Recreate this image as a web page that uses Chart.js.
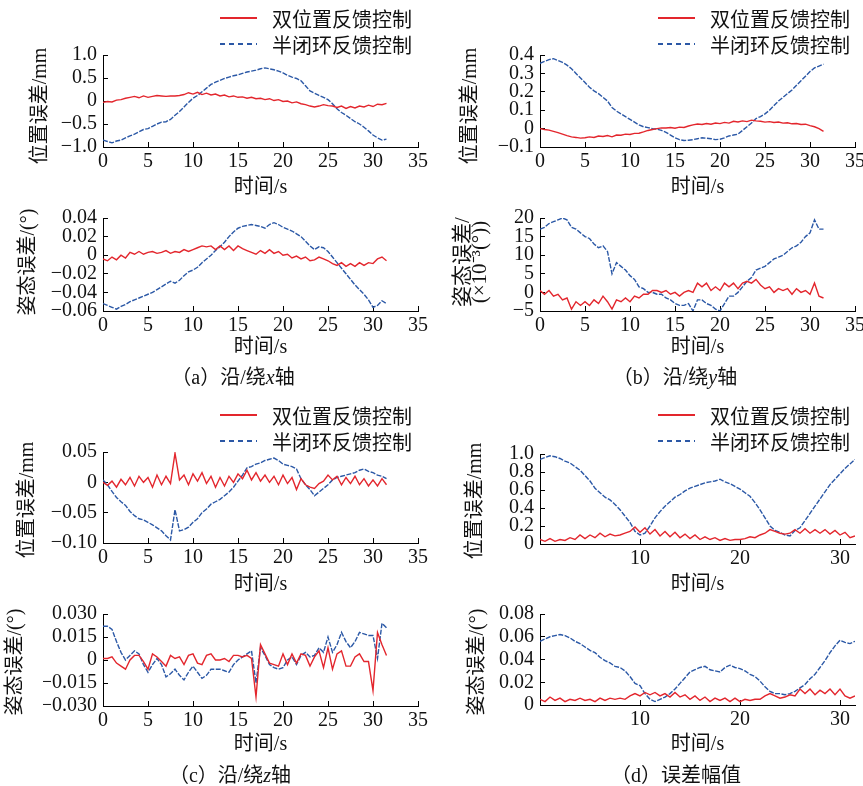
<!DOCTYPE html>
<html lang="zh">
<head>
<meta charset="utf-8">
<script src="https://cdn.jsdelivr.net/npm/chart.js@4.4.1/dist/chart.umd.min.js"></script>
<style>
  html, body { margin: 0; padding: 0; background: #fff; }
  #fig { position: relative; width: 863px; height: 786px; overflow: hidden;
         font-family: 'Liberation Serif', 'Times New Roman', 'Noto Sans CJK SC', serif; color: #111; }
  #fig canvas { position: absolute; left: 0; top: 0; }
  .legend { position: absolute; font-size: 20px; }
  .legend .row { display: flex; align-items: center; height: 26px; white-space: nowrap; }
  .legend svg { margin-right: 15px; }
  .cap { position: absolute; font-size: 20px; line-height: 26px; transform: translateX(-50%); white-space: nowrap; }
</style>
</head>
<body>
<div id="fig">
  <canvas id="a1" width="863" height="786"></canvas>
  <canvas id="a2" width="863" height="786"></canvas>
  <canvas id="b1" width="863" height="786"></canvas>
  <canvas id="b2" width="863" height="786"></canvas>
  <canvas id="c1" width="863" height="786"></canvas>
  <canvas id="c2" width="863" height="786"></canvas>
  <canvas id="d1" width="863" height="786"></canvas>
  <canvas id="d2" width="863" height="786"></canvas>

  <div class="legend" style="left:220px;top:5px">
    <div class="row"><svg width="37" height="4"><line x1="0" y1="2" x2="37" y2="2" stroke="#e3262d" stroke-width="2"/></svg>双位置反馈控制</div>
    <div class="row"><svg width="37" height="4"><line x1="0" y1="2" x2="37" y2="2" stroke="#2b58a6" stroke-width="2" stroke-dasharray="5,4"/></svg>半闭环反馈控制</div>
  </div>
  <div class="legend" style="left:658px;top:5px">
    <div class="row"><svg width="37" height="4"><line x1="0" y1="2" x2="37" y2="2" stroke="#e3262d" stroke-width="2"/></svg>双位置反馈控制</div>
    <div class="row"><svg width="37" height="4"><line x1="0" y1="2" x2="37" y2="2" stroke="#2b58a6" stroke-width="2" stroke-dasharray="5,4"/></svg>半闭环反馈控制</div>
  </div>
  <div class="legend" style="left:220px;top:402px">
    <div class="row"><svg width="37" height="4"><line x1="0" y1="2" x2="37" y2="2" stroke="#e3262d" stroke-width="2"/></svg>双位置反馈控制</div>
    <div class="row"><svg width="37" height="4"><line x1="0" y1="2" x2="37" y2="2" stroke="#2b58a6" stroke-width="2" stroke-dasharray="5,4"/></svg>半闭环反馈控制</div>
  </div>
  <div class="legend" style="left:658px;top:402px">
    <div class="row"><svg width="37" height="4"><line x1="0" y1="2" x2="37" y2="2" stroke="#e3262d" stroke-width="2"/></svg>双位置反馈控制</div>
    <div class="row"><svg width="37" height="4"><line x1="0" y1="2" x2="37" y2="2" stroke="#2b58a6" stroke-width="2" stroke-dasharray="5,4"/></svg>半闭环反馈控制</div>
  </div>

  <div class="cap" style="left:233px;top:364px">（a）沿/绕<i>x</i>轴</div>
  <div class="cap" style="left:675px;top:364px">（b）沿/绕<i>y</i>轴</div>
  <div class="cap" style="left:230px;top:762px">（c）沿/绕<i>z</i>轴</div>
  <div class="cap" style="left:676px;top:762px">（d）误差幅值</div>
</div>

<script>
// sample times (s), shared by every panel
const TIME = [
  0, 0.5, 1, 1.5, 2, 2.5, 3, 3.5,
  4, 4.5, 5, 5.5, 6, 6.5, 7, 7.5,
  8, 8.5, 9, 9.5, 10, 10.5, 11, 11.5,
  12, 12.5, 13, 13.5, 14, 14.5, 15, 15.5,
  16, 16.5, 17, 17.5, 18, 18.5, 19, 19.5,
  20, 20.5, 21, 21.5, 22, 22.5, 23, 23.5,
  24, 24.5, 25, 25.5, 26, 26.5, 27, 27.5,
  28, 28.5, 29, 29.5, 30, 30.5, 31, 31.5
];

// (a) x axis: position error (mm)
const posX_dual = [
  -0.03, -0.01, -0.02, 0.02, 0.03, 0.06, 0.08, 0.10,
  0.07, 0.11, 0.08, 0.10, 0.12, 0.11, 0.10, 0.11,
  0.11, 0.12, 0.14, 0.18, 0.15, 0.19, 0.14, 0.17,
  0.13, 0.15, 0.11, 0.13, 0.09, 0.11, 0.08, 0.09,
  0.06, 0.08, 0.05, 0.06, 0.03, 0.05, 0.01, 0.03,
  -0.01, 0.00, -0.04, -0.02, -0.06, -0.08, -0.11, -0.13,
  -0.11, -0.08, -0.10, -0.11, -0.14, -0.11, -0.16, -0.12,
  -0.15, -0.11, -0.13, -0.09, -0.12, -0.07, -0.08, -0.05
];
const posX_semi = [
  -0.85, -0.88, -0.91, -0.87, -0.85, -0.80, -0.76, -0.72,
  -0.67, -0.62, -0.60, -0.55, -0.50, -0.46, -0.45, -0.40,
  -0.31, -0.23, -0.13, -0.03, 0.06, 0.12, 0.20, 0.28,
  0.36, 0.41, 0.45, 0.49, 0.52, 0.55, 0.57, 0.60,
  0.63, 0.65, 0.67, 0.70, 0.72, 0.70, 0.68, 0.65,
  0.61, 0.56, 0.52, 0.49, 0.44, 0.33, 0.22, 0.17,
  0.12, 0.08, 0.03, -0.06, -0.17, -0.25, -0.31, -0.38,
  -0.45, -0.50, -0.57, -0.65, -0.74, -0.80, -0.85, -0.83
];
// (a) x axis: attitude error (deg)
const attX_dual = [
  -0.004, -0.006, -0.002, -0.005, 0.000, -0.003, 0.003, 0.001,
  0.004, 0.001, 0.003, 0.004, 0.002, 0.003, 0.005, 0.002,
  0.004, 0.003, 0.006, 0.004, 0.006, 0.008, 0.010, 0.009,
  0.010, 0.006, 0.010, 0.006, 0.010, 0.005, 0.010, 0.007,
  0.005, 0.003, 0.001, 0.005, 0.002, 0.006, 0.002, 0.004,
  0.000, 0.001, -0.003, -0.001, -0.004, -0.002, -0.006, -0.005,
  -0.002, -0.004, -0.006, -0.009, -0.011, -0.008, -0.012, -0.009,
  -0.012, -0.008, -0.011, -0.008, -0.009, -0.004, -0.002, -0.006
];
const attX_semi = [
  -0.052, -0.054, -0.056, -0.058, -0.055, -0.053, -0.050, -0.048,
  -0.046, -0.044, -0.042, -0.040, -0.037, -0.034, -0.031, -0.028,
  -0.030, -0.027, -0.022, -0.018, -0.016, -0.013, -0.008, -0.004,
  0.000, 0.005, 0.009, 0.014, 0.020, 0.025, 0.029, 0.031,
  0.032, 0.033, 0.032, 0.031, 0.029, 0.033, 0.035, 0.033,
  0.030, 0.028, 0.026, 0.023, 0.020, 0.015, 0.010, 0.006,
  0.009, 0.008, 0.004, -0.002, -0.008, -0.014, -0.020, -0.026,
  -0.032, -0.037, -0.042, -0.048, -0.056, -0.054, -0.049, -0.052
];

// (b) y axis: position error (mm)
const posY_dual = [
  0.000, -0.005, -0.008, -0.015, -0.022, -0.030, -0.038, -0.045,
  -0.048, -0.052, -0.050, -0.045, -0.048, -0.040, -0.043, -0.038,
  -0.045, -0.035, -0.036, -0.030, -0.032, -0.026, -0.025, -0.018,
  -0.010, -0.005, 0.000, 0.004, 0.003, 0.006, 0.002, 0.008,
  0.006, 0.014, 0.020, 0.025, 0.022, 0.028, 0.024, 0.030,
  0.027, 0.034, 0.030, 0.040, 0.036, 0.042, 0.038, 0.046,
  0.042, 0.040, 0.035, 0.038, 0.033, 0.036, 0.030, 0.032,
  0.026, 0.028, 0.022, 0.024, 0.016, 0.010, 0.000, -0.015
];
const posY_semi = [
  0.355, 0.365, 0.375, 0.380, 0.370, 0.360, 0.345, 0.325,
  0.300, 0.275, 0.250, 0.225, 0.205, 0.190, 0.170, 0.150,
  0.115, 0.095, 0.080, 0.065, 0.050, 0.035, 0.020, 0.010,
  0.005, 0.000, -0.003, -0.010, -0.020, -0.035, -0.050, -0.060,
  -0.065, -0.063, -0.060, -0.055, -0.050, -0.052, -0.055, -0.060,
  -0.058, -0.050, -0.040, -0.035, -0.030, -0.010, 0.010, 0.030,
  0.055, 0.065, 0.080, 0.100, 0.125, 0.150, 0.170, 0.190,
  0.210, 0.235, 0.260, 0.285, 0.310, 0.330, 0.340, 0.350
];
// (b) y axis: attitude error (1e-3 deg)
const attY_dual = [
  0.5, -0.5, 0.5, -1, -0.5, -2, -1.5, -4.5,
  -2.5, -3.5, -2.5, -3.5, -2, -3, -1, -2.5,
  -4.5, -2, -2.5, -1.5, -2.5, -1, -1.5, -0.5,
  -0.5, 0.5, 0.5, 0, 0.5, -0.5, 0, -1,
  0, 0.5, 0, 2.5, 1.5, 2.5, 0.5, 1.5,
  0.5, 2.5, 1.5, 2.5, 1, 2.5, 3, 2.5,
  3.5, 2, 1, 1.5, 0, 1, 0.5, 1,
  -0.5, 1, 0, 0.5, -0.5, 2.5, -1, -1.5
];
const attY_semi = [
  17, 17.5, 18.5, 19, 19.5, 20, 19.5, 17.5,
  17, 16, 15, 14.5, 13, 12, 12.5, 11,
  5, 8, 7, 6, 4.5, 3.5, 1.5, 1,
  0, 0, -0.5, -0.5, -1.5, -2, -3, -3.5,
  -3.5, -3, -5, -2, -2, -3, -3.5, -4.5,
  -5, -3, -1, -1, 0, 1.5, 3, 4,
  6, 6.5, 7, 8, 9, 9.5, 10, 11,
  12, 12.5, 13.5, 15, 16, 19.5, 17, 17
];

// (c) z axis: position error (mm)
const posZ_dual = [
  0.000, -0.005, 0.002, -0.008, 0.005, -0.004, 0.008, -0.006,
  0.010, 0.000, 0.008, -0.008, 0.012, -0.004, 0.010, -0.002,
  0.048, 0.004, 0.012, -0.004, 0.014, 0.002, 0.016, -0.002,
  0.010, -0.008, 0.008, -0.006, 0.010, 0.000, 0.014, 0.006,
  0.020, 0.004, 0.016, 0.002, 0.012, 0.000, 0.010, -0.004,
  0.012, -0.002, 0.008, -0.012, 0.006, -0.004, -0.008, -0.010,
  -0.002, 0.002, 0.012, 0.004, 0.010, -0.004, 0.008, -0.002,
  0.010, -0.004, 0.006, -0.006, 0.004, -0.006, 0.006, -0.004
];
const posZ_semi = [
  0.004, -0.004, -0.015, -0.025, -0.032, -0.038, -0.048, -0.055,
  -0.060, -0.062, -0.066, -0.070, -0.075, -0.080, -0.088, -0.095,
  -0.045, -0.080, -0.078, -0.074, -0.066, -0.060, -0.050, -0.044,
  -0.036, -0.032, -0.028, -0.022, -0.016, -0.008, 0.002, 0.012,
  0.024, 0.026, 0.030, 0.032, 0.036, 0.038, 0.040, 0.036,
  0.030, 0.028, 0.026, 0.022, 0.006, -0.004, -0.012, -0.022,
  -0.016, -0.010, -0.004, 0.004, 0.008, 0.010, 0.012, 0.014,
  0.016, 0.020, 0.022, 0.018, 0.016, 0.012, 0.010, 0.006
];
// (c) z axis: attitude error (deg)
const attZ_dual = [
  0.001, 0.001, 0.002, -0.002, -0.004, -0.006, 0.000, 0.003,
  0.003, -0.001, -0.006, 0.004, 0.002, -0.001, -0.004, 0.003,
  0.001, 0.002, -0.003, 0.003, 0.004, -0.002, -0.003, 0.003,
  0.004, 0.000, 0.000, 0.001, -0.001, 0.003, 0.003, 0.002,
  0.003, 0.001, -0.024, 0.010, 0.004, -0.002, -0.003, -0.004,
  0.004, -0.003, 0.004, -0.002, 0.004, 0.003, -0.004, 0.002,
  0.006, -0.005, 0.008, -0.006, 0.004, 0.006, -0.004, -0.004,
  0.002, 0.004, -0.001, -0.001, -0.020, 0.018, 0.010, 0.003
];
const attZ_semi = [
  0.022, 0.022, 0.020, 0.012, 0.005, 0.000, 0.003, 0.006,
  0.004, -0.003, -0.008, -0.003, 0.001, -0.003, -0.011, -0.009,
  -0.006, -0.010, -0.013, -0.008, -0.004, -0.008, -0.012, -0.010,
  -0.006, -0.006, -0.006, -0.007, -0.008, -0.003, 0.000, 0.002,
  0.004, 0.006, -0.015, 0.008, 0.003, -0.003, -0.005, -0.006,
  -0.005, 0.000, 0.002, -0.003, 0.003, 0.005, 0.002, 0.003,
  0.008, 0.005, 0.015, 0.005, 0.010, 0.018, 0.012, 0.008,
  0.012, 0.018, 0.017, 0.016, 0.016, 0.001, 0.024, 0.021
];

// (d) magnitude: position error (mm)
const posM_dual = [
  0.05, 0.03, 0.06, 0.03, 0.05, 0.04, 0.07, 0.05,
  0.10, 0.06, 0.10, 0.07, 0.12, 0.08, 0.11, 0.09,
  0.10, 0.12, 0.14, 0.19, 0.13, 0.18, 0.11, 0.16,
  0.09, 0.14, 0.08, 0.13, 0.07, 0.11, 0.06, 0.10,
  0.05, 0.08, 0.05, 0.07, 0.04, 0.06, 0.04, 0.05,
  0.05, 0.06, 0.08, 0.07, 0.10, 0.12, 0.16, 0.14,
  0.12, 0.11, 0.12, 0.16, 0.12, 0.17, 0.12, 0.16,
  0.12, 0.16, 0.11, 0.15, 0.10, 0.13, 0.07, 0.09
];
const posM_semi = [
  0.94, 0.96, 0.98, 0.97, 0.95, 0.92, 0.90, 0.86,
  0.82, 0.76, 0.70, 0.62, 0.57, 0.52, 0.49, 0.44,
  0.38, 0.31, 0.24, 0.14, 0.10, 0.12, 0.20, 0.29,
  0.36, 0.42, 0.47, 0.52, 0.55, 0.59, 0.62, 0.64,
  0.66, 0.68, 0.69, 0.70, 0.72, 0.69, 0.67, 0.64,
  0.61, 0.57, 0.53, 0.46, 0.38, 0.29, 0.20, 0.15,
  0.13, 0.10, 0.09, 0.15, 0.18, 0.26, 0.34, 0.42,
  0.50, 0.58, 0.66, 0.72, 0.78, 0.84, 0.89, 0.94
];
// (d) magnitude: attitude error (deg)
const attM_dual = [
  0.005, 0.003, 0.007, 0.004, 0.006, 0.003, 0.005, 0.004,
  0.006, 0.004, 0.005, 0.003, 0.006, 0.004, 0.006, 0.005,
  0.006, 0.005, 0.008, 0.010, 0.008, 0.011, 0.009, 0.011,
  0.008, 0.010, 0.007, 0.011, 0.007, 0.009, 0.005, 0.008,
  0.004, 0.007, 0.003, 0.006, 0.004, 0.006, 0.003, 0.006,
  0.003, 0.005, 0.004, 0.005, 0.005, 0.008, 0.010, 0.008,
  0.006, 0.007, 0.009, 0.008, 0.014, 0.010, 0.014, 0.009,
  0.013, 0.010, 0.014, 0.009, 0.014, 0.008, 0.006, 0.008
];
const attM_semi = [
  0.056, 0.058, 0.060, 0.061, 0.062, 0.061, 0.059, 0.056,
  0.054, 0.051, 0.048, 0.046, 0.042, 0.039, 0.037, 0.034,
  0.033, 0.030, 0.025, 0.019, 0.017, 0.010, 0.005, 0.003,
  0.005, 0.007, 0.010, 0.014, 0.019, 0.024, 0.029, 0.031,
  0.033, 0.034, 0.031, 0.030, 0.029, 0.033, 0.035, 0.033,
  0.032, 0.030, 0.027, 0.025, 0.021, 0.016, 0.012, 0.010,
  0.010, 0.009, 0.010, 0.012, 0.015, 0.018, 0.023, 0.027,
  0.033, 0.039, 0.046, 0.052, 0.057, 0.055, 0.054, 0.056
];

// tick values and their printed labels
const X_TICKS = [0, 5, 10, 15, 20, 25, 30, 35];
const X_TICKS_D = [10, 20, 30];
const Y_TICKS_A1 = [-1, -0.5, 0, 0.5, 1];
const Y_LABELS_A1 = ['−1.0', '−0.5', '0', '0.5', '1.0'];
const Y_TICKS_A2 = [-0.06, -0.04, -0.02, 0, 0.02, 0.04];
const Y_LABELS_A2 = ['−0.06', '−0.04', '−0.02', '0', '0.02', '0.04'];
const Y_TICKS_B1 = [-0.1, 0, 0.1, 0.2, 0.3, 0.4];
const Y_LABELS_B1 = ['−0.1', '0', '0.1', '0.2', '0.3', '0.4'];
const Y_TICKS_B2 = [-5, 0, 5, 10, 15, 20];
const Y_LABELS_B2 = ['−5', '0', '5', '10', '15', '20'];
const Y_TICKS_C1 = [-0.10, -0.05, 0, 0.05];
const Y_LABELS_C1 = ['−0.10', '−0.05', '0', '0.05'];
const Y_TICKS_C2 = [-0.03, -0.015, 0, 0.015, 0.03];
const Y_LABELS_C2 = ['−0.030', '−0.015', '0', '0.015', '0.030'];
const Y_TICKS_D1 = [0, 0.2, 0.4, 0.6, 0.8, 1.0];
const Y_LABELS_D1 = ['0', '0.2', '0.4', '0.6', '0.8', '1.0'];
const Y_TICKS_D2 = [0, 0.02, 0.04, 0.06, 0.08];
const Y_LABELS_D2 = ['0', '0.02', '0.04', '0.06', '0.08'];

const RED = '#e3262d';
const BLUE = '#2b58a6';
const FONT = "'Liberation Serif', 'Times New Roman', 'Noto Sans CJK SC', serif";
const TITLE_POS = ['位置误差/mm'];
const TITLE_ATT = ['姿态误差/(°)'];

function toPoints(values) {
    return values.map((v, i) => ({ x: TIME[i], y: v }));
}

// rotated y-axis title, drawn without the width squeeze Chart.js applies
const yTitlePlugin = {
    id: 'yTitle',
    afterDraw(chart, args, opts) {
        const ctx = chart.ctx;
        ctx.save();
        ctx.font = opts.size + 'px ' + FONT;
        ctx.fillStyle = '#111';
        ctx.textAlign = 'center';
        ctx.textBaseline = 'middle';
        opts.lines.forEach((line, i) => {
            ctx.save();
            ctx.translate(opts.x + i * opts.gap, opts.y);
            ctx.rotate(-Math.PI / 2);
            ctx.fillText(line, 0, 0);
            ctx.restore();
        });
        ctx.restore();
    }
};

// p: plot box (l,t,r,b), where the axis titles sit, data and ticks
function drawPanel(id, p) {
    const yWidth = 60;
    const xBottom = p.xTitleY + 12;
    const xHeight = xBottom - p.b;

    new Chart(document.getElementById(id), {
        type: 'line',
        data: {
            datasets: [
                { data: toPoints(p.dual), borderColor: RED, borderWidth: 1.4 },
                { data: toPoints(p.semi), borderColor: BLUE, borderWidth: 1.4, borderDash: [5, 1.5] }
            ]
        },
        plugins: [yTitlePlugin],
        options: {
            responsive: false,
            animation: false,
            events: [],
            elements: { point: { radius: 0 }, line: { tension: 0 } },
            layout: {
                padding: { left: p.l - yWidth, top: p.t, right: 863 - p.r, bottom: 786 - xBottom }
            },
            plugins: {
                legend: { display: false },
                tooltip: { enabled: false },
                yTitle: { lines: p.yTitle, x: p.yTitleX, y: p.yTitleY, gap: p.gap || 0, size: p.titleSize || 20 }
            },
            scales: {
                x: {
                    type: 'linear',
                    min: 0,
                    max: p.xMax,
                    afterBuildTicks: s => { s.ticks = p.xTicks.map(v => ({ value: v })); },
                    afterFit: s => { s.height = xHeight; s.paddingLeft = 0; s.paddingRight = 0; },
                    border: { display: true, color: '#000', width: 1 },
                    grid: { drawOnChartArea: false, drawTicks: true, tickLength: -5, color: '#000' },
                    ticks: { color: '#111', padding: 8, maxRotation: 0, autoSkip: false, font: { family: FONT, size: 20 } },
                    title: {
                        display: true, text: '时间/s', color: '#111', padding: 0,
                        font: { family: FONT, size: 20, lineHeight: 1.2 }
                    }
                },
                y: {
                    min: p.yTicks[0],
                    max: p.yTicks[p.yTicks.length - 1],
                    afterBuildTicks: s => { s.ticks = p.yTicks.map(v => ({ value: v })); },
                    afterFit: s => { s.width = yWidth; s.paddingTop = 0; s.paddingBottom = 0; },
                    border: { display: true, color: '#000', width: 1 },
                    grid: { drawOnChartArea: false, drawTicks: true, tickLength: -5, color: '#000' },
                    ticks: {
                        color: '#111', padding: 11, autoSkip: false, font: { family: FONT, size: 20 },
                        callback: (v, i) => p.yLabels[i]
                    }
                }
            }
        }
    });
}

drawPanel('a1', { l: 103, t: 55, r: 418, b: 147, yTitleX: 41, yTitleY: 106, xTitleY: 188,
    dual: posX_dual, semi: posX_semi, xMax: 35, xTicks: X_TICKS,
    yTicks: Y_TICKS_A1, yLabels: Y_LABELS_A1, yTitle: TITLE_POS });
drawPanel('a2', { l: 103, t: 218, r: 418, b: 311, yTitleX: 29, yTitleY: 262, xTitleY: 348,
    dual: attX_dual, semi: attX_semi, xMax: 35, xTicks: X_TICKS,
    yTicks: Y_TICKS_A2, yLabels: Y_LABELS_A2, yTitle: TITLE_ATT });
drawPanel('b1', { l: 540, t: 55, r: 855, b: 147, yTitleX: 471, yTitleY: 106, xTitleY: 188,
    dual: posY_dual, semi: posY_semi, xMax: 35, xTicks: X_TICKS,
    yTicks: Y_TICKS_B1, yLabels: Y_LABELS_B1, yTitle: TITLE_POS });
drawPanel('b2', { l: 540, t: 218, r: 855, b: 311, yTitleX: 463, yTitleY: 262, xTitleY: 348,
    dual: attY_dual, semi: attY_semi, xMax: 35, xTicks: X_TICKS,
    yTicks: Y_TICKS_B2, yLabels: Y_LABELS_B2,
    yTitle: ['姿态误差/', '(×10⁻³(°))'], gap: 17, titleSize: 21 });
drawPanel('c1', { l: 103, t: 452, r: 418, b: 543, yTitleX: 28, yTitleY: 500, xTitleY: 585,
    dual: posZ_dual, semi: posZ_semi, xMax: 35, xTicks: X_TICKS,
    yTicks: Y_TICKS_C1, yLabels: Y_LABELS_C1, yTitle: TITLE_POS });
drawPanel('c2', { l: 103, t: 614, r: 418, b: 706, yTitleX: 16, yTitleY: 662, xTitleY: 745,
    dual: attZ_dual, semi: attZ_semi, xMax: 35, xTicks: X_TICKS,
    yTicks: Y_TICKS_C2, yLabels: Y_LABELS_C2, yTitle: TITLE_ATT });
drawPanel('d1', { l: 540, t: 454, r: 855, b: 544, yTitleX: 476, yTitleY: 501, xTitleY: 585,
    dual: posM_dual, semi: posM_semi, xMax: 31.5, xTicks: X_TICKS_D,
    yTicks: Y_TICKS_D1, yLabels: Y_LABELS_D1, yTitle: TITLE_POS });
drawPanel('d2', { l: 540, t: 614, r: 855, b: 705, yTitleX: 478, yTitleY: 662, xTitleY: 745,
    dual: attM_dual, semi: attM_semi, xMax: 31.5, xTicks: X_TICKS_D,
    yTicks: Y_TICKS_D2, yLabels: Y_LABELS_D2, yTitle: TITLE_ATT });
</script>
</body>
</html>
